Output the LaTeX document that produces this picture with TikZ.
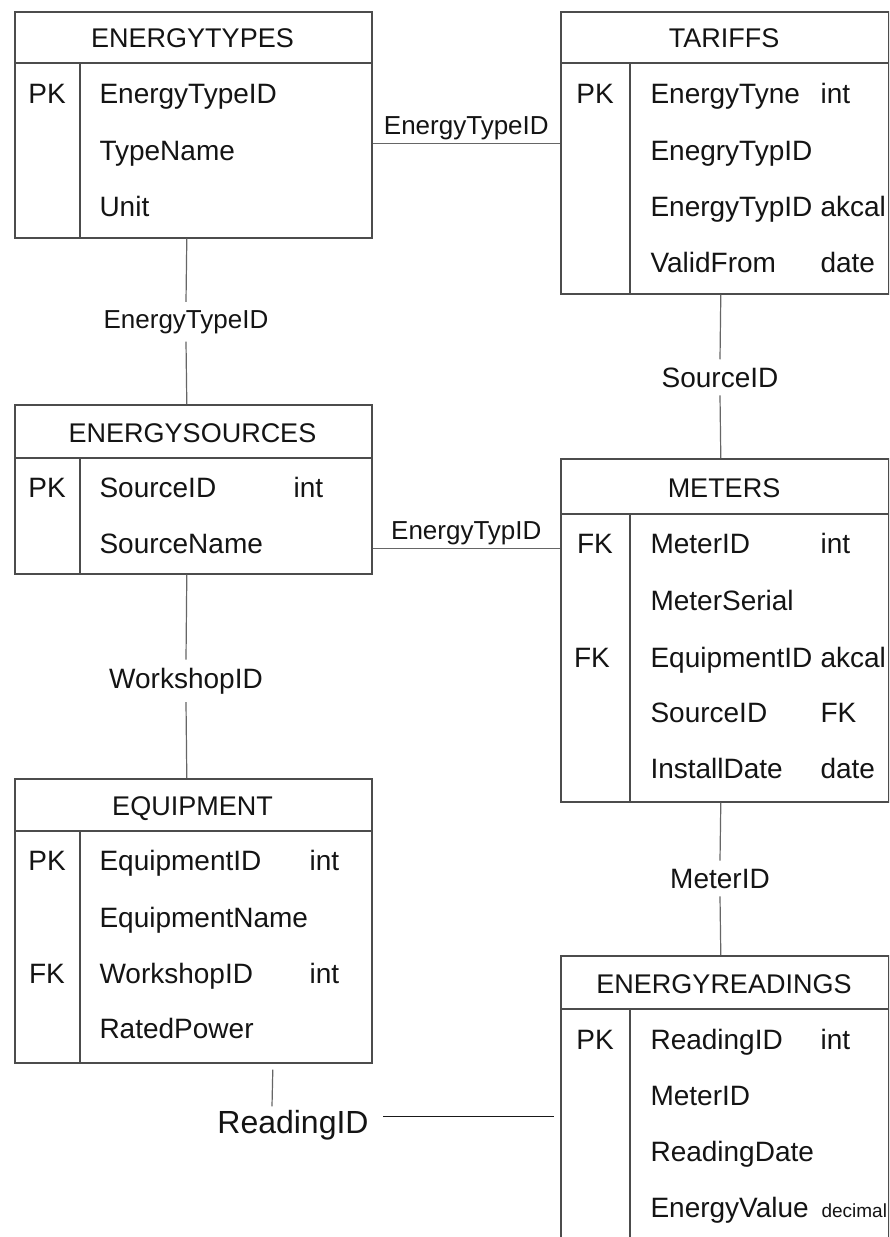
\documentclass[tikz,border=0pt]{standalone}
\usepackage{fontspec}
\setmainfont{Liberation Sans}

\begin{document}
\begin{tikzpicture}[x=1pt,y=-1pt,
    tbl/.style={draw=black!70, line width=1.6pt, anchor=north west, inner sep=0pt},
    rule/.style={draw=black!70, line width=1.6pt},
    ttl/.style={anchor=base, text=black!92, font=\fontsize{27}{27}\selectfont},
    fld/.style={anchor=base west, text=black!92, font=\fontsize{28}{28}\selectfont},
    key/.style={anchor=base, text=black!92, font=\fontsize{28}{28}\selectfont},
    lnk/.style={anchor=base, text=black!92, font=\fontsize{26}{26}\selectfont, inner sep=8pt},
    wire/.style={draw=black!60, line width=1.2pt}]
    \useasboundingbox (0,0) rectangle (889,1237);
    \clip (0,0) rectangle (889,1237);
    \fill[white] (0,0) rectangle (889,1237);

    % tables
    \node[tbl, minimum width=357pt, minimum height=226pt] (types) at (14,11) {};
    \draw[rule] (14,63) -- (371,63);
    \draw[rule] (80,63) -- (80,237);
    \node[ttl] (typesT) at (192.5,47) {ENERGYTYPES};
    \node[key] (typesK1) at (47,103) {PK};
    \node[fld] (typesF1) at (96,103) {EnergyTypeID};
    \node[fld] (typesF2) at (96,160) {TypeName};
    \node[fld] (typesF3) at (96,216) {Unit};

    \node[tbl, minimum width=328pt, minimum height=282pt] (tariffs) at (560,11) {};
    \draw[rule] (560,63) -- (888,63);
    \draw[rule] (630,63) -- (630,293);
    \node[ttl] (tariffsT) at (724,47) {TARIFFS};
    \node[key] (tariffsK1) at (595,103) {PK};
    \node[fld] (tariffsF1) at (647,103) {EnergyTyne};
    \node[fld] (tariffsD1) at (817,103) {int};
    \node[fld] (tariffsF2) at (647,160) {EnegryTypID};
    \node[fld] (tariffsF3) at (647,216) {EnergyTypID};
    \node[fld] (tariffsD3) at (817,216) {akcal};
    \node[fld] (tariffsF4) at (647,272) {ValidFrom};
    \node[fld] (tariffsD4) at (817,272) {date};

    \node[tbl, minimum width=357pt, minimum height=169pt] (sources) at (14,404) {};
    \draw[rule] (14,458) -- (371,458);
    \draw[rule] (80,458) -- (80,573);
    \node[ttl] (sourcesT) at (192.5,442) {ENERGYSOURCES};
    \node[key] (sourcesK1) at (47,497) {PK};
    \node[fld] (sourcesF1) at (96,497) {SourceID};
    \node[fld] (sourcesD1) at (290,497) {int};
    \node[fld] (sourcesF2) at (96,553) {SourceName};

    \node[tbl, minimum width=328pt, minimum height=343pt] (meters) at (560,458) {};
    \draw[rule] (560,514) -- (888,514);
    \draw[rule] (630,514) -- (630,801);
    \node[ttl] (metersT) at (724,497) {METERS};
    \node[key] (metersK1) at (595,553) {FK};
    \node[fld] (metersF1) at (647,553) {MeterID};
    \node[fld] (metersD1) at (817,553) {int};
    \node[fld] (metersF2) at (647,610) {MeterSerial};
    \node[key] (metersK3) at (592,667) {FK};
    \node[fld] (metersF3) at (647,667) {EquipmentID};
    \node[fld] (metersD3) at (817,667) {akcal};
    \node[fld] (metersF4) at (647,722) {SourceID};
    \node[fld] (metersD4) at (817,722) {FK};
    \node[fld] (metersF5) at (647,778) {InstallDate};
    \node[fld] (metersD5) at (817,778) {date};

    \node[tbl, minimum width=357pt, minimum height=284pt] (equip) at (14,778) {};
    \draw[rule] (14,831) -- (371,831);
    \draw[rule] (80,831) -- (80,1062);
    \node[ttl] (equipT) at (192.5,815) {EQUIPMENT};
    \node[key] (equipK1) at (47,870) {PK};
    \node[fld] (equipF1) at (96,870) {EquipmentID};
    \node[fld] (equipD1) at (306,870) {int};
    \node[fld] (equipF2) at (96,927) {EquipmentName};
    \node[key] (equipK3) at (47,983) {FK};
    \node[fld] (equipF3) at (96,983) {WorkshopID};
    \node[fld] (equipD3) at (306,983) {int};
    \node[fld] (equipF4) at (96,1038) {RatedPower};

    \node[tbl, minimum width=328pt, minimum height=300pt] (readings) at (560,955) {};
    \draw[rule] (560,1009) -- (888,1009);
    \draw[rule] (630,1009) -- (630,1255);
    \node[ttl] (readingsT) at (724,993) {ENERGYREADINGS};
    \node[key] (readingsK1) at (595,1049) {PK};
    \node[fld] (readingsF1) at (647,1049) {ReadingID};
    \node[fld] (readingsD1) at (817,1049) {int};
    \node[fld] (readingsF2) at (647,1105) {MeterID};
    \node[fld] (readingsF3) at (647,1161) {ReadingDate};
    \node[fld] (readingsF4) at (647,1217) {EnergyValue};
    \node[fld, font=\fontsize{19}{19}\selectfont] (readingsD4) at (818,1217) {decimal};

    % links
    \draw[wire] ([yshift=-19pt]types.east) -- ([yshift=-19pt]types.east -| tariffs.west)
        node[lnk, midway, above, inner sep=3pt] (linkA) {EnergyTypeID};
    \node[lnk] (linkB) at (186,328) {EnergyTypeID};
    \draw[wire] ([xshift=-6.5pt]types.south) -- (linkB.north);
    \draw[wire] (linkB.south) -- ([xshift=-6.5pt]sources.north);
    \node[lnk, font=\fontsize{28}{28}\selectfont] (linkC) at (720,387) {SourceID};
    \draw[wire] ([xshift=-4pt]tariffs.south) -- (linkC.north);
    \draw[wire] (linkC.south) -- ([xshift=-4pt]meters.north);
    \draw[wire] ([yshift=-59.5pt]sources.east) -- ([yshift=-59.5pt]sources.east -| meters.west)
        node[lnk, midway, above, inner sep=3pt] (linkD) {EnergyTypID};
    \node[lnk, font=\fontsize{28}{28}\selectfont] (linkE) at (186,688) {WorkshopID};
    \draw[wire] ([xshift=-6.5pt]sources.south) -- (linkE.north);
    \draw[wire] (linkE.south) -- ([xshift=-6.5pt]equip.north);
    \node[lnk, font=\fontsize{28}{28}\selectfont] (linkF) at (720,888) {MeterID};
    \draw[wire] ([xshift=-4pt]meters.south) -- (linkF.north);
    \draw[wire] (linkF.south) -- ([xshift=-4pt]readings.north);
    \node[lnk, font=\fontsize{32}{32}\selectfont, inner sep=3.33pt] (linkG) at (293,1133) {ReadingID};
    \draw[wire] ([xshift=79.5pt,yshift=-6pt]equip.south) -- ([xshift=-21pt]linkG.north);
    \draw[wire, draw=black!90, line width=1pt] ([xshift=11pt,yshift=8.7pt]linkG.east)
        -- ([xshift=-6pt,yshift=8.7pt]linkG.east -| readings.west);
\end{tikzpicture}
\end{document}
